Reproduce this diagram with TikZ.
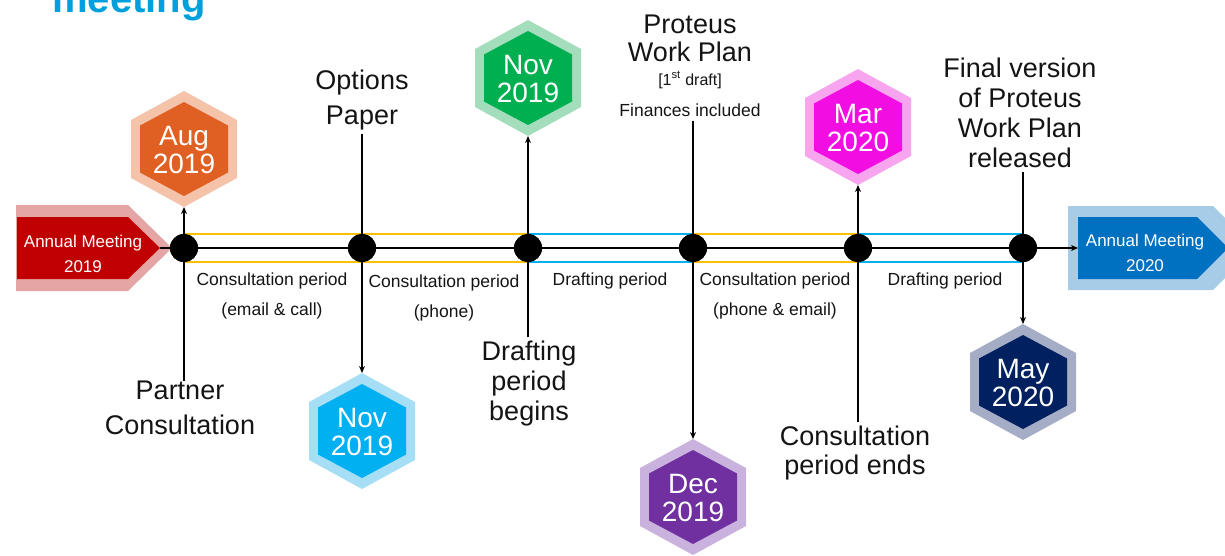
\documentclass[tikz,border=0pt]{standalone}
\usepackage{fontspec}
\setmainfont{Liberation Sans}
\usetikzlibrary{arrows.meta,calc}
\definecolor{titleblue}{RGB}{0,160,220}
\definecolor{amRedHi}{RGB}{192,0,0}
\definecolor{amRedLo}{RGB}{230,165,165}
\definecolor{amBlueHi}{RGB}{0,112,192}
\definecolor{amBlueLo}{RGB}{166,204,232}
\definecolor{bandYellow}{RGB}{255,192,0}
\definecolor{bandBlue}{RGB}{0,176,240}
\definecolor{augHi}{RGB}{224,96,36}
\definecolor{augLo}{RGB}{244,195,170}
\definecolor{grnHi}{RGB}{0,176,80}
\definecolor{grnLo}{RGB}{163,221,188}
\definecolor{magHi}{RGB}{242,14,226}
\definecolor{magLo}{RGB}{248,165,240}
\definecolor{cyaHi}{RGB}{0,176,240}
\definecolor{cyaLo}{RGB}{166,222,246}
\definecolor{purHi}{RGB}{112,48,160}
\definecolor{purLo}{RGB}{201,178,222}
\definecolor{navHi}{RGB}{0,32,96}
\definecolor{navLo}{RGB}{164,172,198}
\definecolor{txt}{RGB}{20,20,20}
\newcommand\hexa[7]{%
  \fill[#5] (#2,#3-58) -- (#2+53,#3-29) -- (#2+53,#3+29) -- (#2,#3+58) -- (#2-53,#3+29) -- (#2-53,#3-29) -- cycle;
  \fill[#4] (#2,#3-47) -- (#2+44,#3-23.5) -- (#2+44,#3+23.5) -- (#2,#3+47) -- (#2-44,#3+23.5) -- (#2-44,#3-23.5) -- cycle;
  \node[hextext] (#1) at (#2,#3+1) {#6\\#7};
  \coordinate (#1-top) at (#2,#3-58);
  \coordinate (#1-bot) at (#2,#3+58);
}
\begin{document}
\begin{tikzpicture}[x=1pt,y=-1pt,
  hextext/.style={text=white,align=center,inner sep=0pt,font=\fontsize{28}{28}\selectfont},
  amtext/.style={text=white,align=center,inner sep=0pt,font=\fontsize{17}{25}\selectfont},
  dot/.style={circle,fill=black,minimum size=28pt,inner sep=0pt},
  tl/.style={line width=2pt,black},
  conn/.style={line width=2pt,black,-{Stealth[length=7pt,width=6pt]}},
  band/.style={line width=2pt},
  bigtext/.style={text=txt,align=center,inner sep=4pt},
  pertext/.style={text=txt,align=center,inner sep=0pt,font=\fontsize{17.5}{30}\selectfont}]
\useasboundingbox (0,0) rectangle (1225,555);
% partial title
\node[anchor=base west,inner sep=0pt,text=titleblue,font=\fontsize{40}{40}\selectfont\bfseries] (title) at (52,12) {meeting};
% left annual meeting box
\fill[amRedLo] (16,205) -- (128,205) -- (172,248) -- (128,291) -- (16,291) -- cycle;
\fill[amRedHi] (17,217) -- (128,217) -- (160,248) -- (128,279) -- (17,279) -- cycle;
\node[amtext] (am19) at (83,254) {Annual Meeting\\2019};
\coordinate (am19tip) at (160,248);
% right annual meeting box
\fill[amBlueLo] (1068,206) -- (1213,206) -- (1255,248) -- (1213,290) -- (1068,290) -- cycle;
\fill[amBlueHi] (1078,217) -- (1197,217) -- (1228,248) -- (1197,279) -- (1078,279) -- cycle;
\node[amtext] (am20) at (1145,253) {Annual Meeting\\2020};
\coordinate (am20in) at (1078,248);
% dots (positions)
\node[dot] (d1) at (184,248) {};
\node[dot] (d2) at (362,248) {};
\node[dot] (d3) at (528,248) {};
\node[dot] (d4) at (693,248) {};
\node[dot] (d5) at (858,248) {};
\node[dot] (d6) at (1023,248) {};
% bands
\foreach \a/\b/\c in {d1/d2/bandYellow,d2/d3/bandYellow,d3/d4/bandBlue,d4/d5/bandYellow,d5/d6/bandBlue}{
  \draw[band,\c] ($(\a.center)+(0,-14)$) -- ($(\b.center)+(0,-14)$);
  \draw[band,\c] ($(\a.center)+(0,14)$) -- ($(\b.center)+(0,14)$);
}
% hexagons
\hexa{hAug}{184}{149}{augHi}{augLo}{Aug}{2019}
\hexa{hNovG}{528}{78}{grnHi}{grnLo}{Nov}{2019}
\hexa{hMar}{858}{127}{magHi}{magLo}{Mar}{2020}
\hexa{hNovB}{362}{431}{cyaHi}{cyaLo}{Nov}{2019}
\hexa{hDec}{693}{497}{purHi}{purLo}{Dec}{2019}
\hexa{hMay}{1023}{382}{navHi}{navLo}{May}{2020}
% big labels
\node[bigtext,font=\fontsize{27}{35}\selectfont] (op) at (362,100) {Options\\Paper};
\node[bigtext,font=\fontsize{27}{35}\selectfont,inner sep=0pt] (pc) at (180,408) {Partner\\Consultation};
\node[bigtext,font=\fontsize{27}{30}\selectfont] (dpb) at (529,384) {Drafting\\period\\begins};
\node[bigtext,font=\fontsize{27}{29}\selectfont] (cpe) at (855,453) {Consultation\\period ends};
\node[bigtext,font=\fontsize{27}{30}\selectfont] (fv) at (1020,113) {Final version\\of Proteus\\Work Plan\\released};
\node[bigtext,font=\fontsize{27}{28}\selectfont] (pw) at (690,38) {Proteus\\Work Plan};
\node[bigtext,inner sep=0pt,font=\fontsize{16}{16}\selectfont] (pwd) at (690,80) {[1\textsuperscript{st} draft]};
\node[bigtext,font=\fontsize{17.5}{20}\selectfont] (pwf) at (690,110) {Finances included};
% period labels
\node[pertext] (p1) at (272,296) {Consultation period\\(email \& call)};
\node[pertext] (p2) at (444,298) {Consultation period\\(phone)};
\node[pertext] (p3) at (610,281) {Drafting period};
\node[pertext] (p4) at (775,296) {Consultation period\\(phone \& email)};
\node[pertext] (p5) at (945,281) {Drafting period};
% timeline
\draw[tl] (am19tip) -- (d1);
\draw[tl] (d1) -- (d2);
\draw[tl] (d2) -- (d3);
\draw[tl] (d3) -- (d4);
\draw[tl] (d4) -- (d5);
\draw[tl] (d5) -- (d6);
\draw[conn] (d6) -- (am20in);
% vertical connectors
\draw[conn] (pc.north -| d1) -- (hAug-bot);
\draw[conn] (op.south -| d2) -- (hNovB-top);
\draw[conn] (dpb.north -| d3) -- (hNovG-bot);
\draw[conn] (pwf.south -| d4) -- (hDec-top);
\draw[conn] (cpe.north -| d5) -- (hMar-bot);
\draw[conn] (fv.south -| d6) -- (hMay-top);
% redraw dots on top
\foreach \d in {d1,d2,d3,d4,d5,d6}{\fill[black] (\d) circle (14);}
\end{tikzpicture}
\end{document}
